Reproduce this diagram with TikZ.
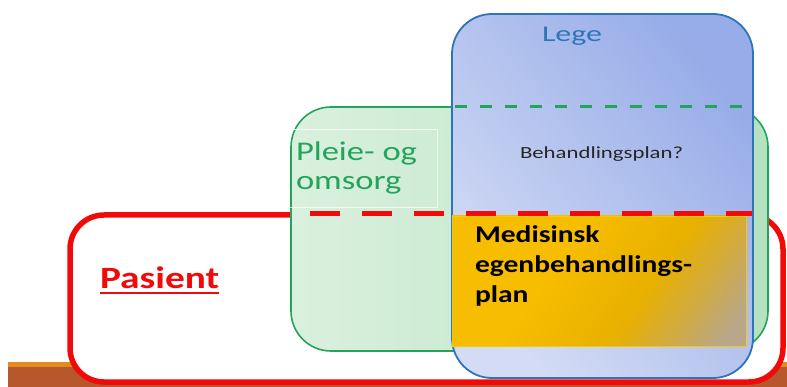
\documentclass[tikz,border=0pt]{standalone}
\usepackage{fontspec}
\setmainfont{Carlito}
\definecolor{pasred}{HTML}{F00A0A}
\definecolor{carestroke}{HTML}{22A45C}
\definecolor{carefillA}{HTML}{DAF0DE}
\definecolor{carefillB}{HTML}{B6E2C0}
\definecolor{docstroke}{HTML}{2E74B8}
\definecolor{docfillA}{HTML}{D4DCF5}
\definecolor{docfillB}{HTML}{97ACE8}
\definecolor{planA}{HTML}{F7BD00}
\definecolor{planM}{HTML}{E8B000}
\definecolor{planC}{HTML}{D2AB40}
\definecolor{planB}{HTML}{B8A788}
\definecolor{barlight}{HTML}{E38A20}
\definecolor{bardark}{HTML}{B6582C}
% gold to tan fill for the plan box
\pgfdeclarehorizontalshading{planshade}{100bp}{color(0bp)=(planA); color(40bp)=(planA);
  color(60bp)=(planM); color(70bp)=(planC); color(80bp)=(planB); color(100bp)=(planB)}
\tikzset{
  region/.style={shape=rectangle, inner sep=0pt, outer sep=0pt, anchor=north west},
  label/.style={inner sep=0pt, outer sep=0pt, anchor=base west, align=left}
}
% text size with horizontal stretch
\newcommand{\wfont}[3]{\fontsize{#1}{#2}\selectfont\addfontfeatures{FakeStretch=#3}}
\begin{document}
\begin{tikzpicture}[x=1pt, y=-1pt]
\useasboundingbox (0,0) rectangle (787,387);

% footer bar
\fill[bardark] (8,362) rectangle (787,387);
\fill[barlight] (8,362) rectangle (787,367);

% patient frame
\node[region, draw=pasred, fill=white, line width=5.5pt, rounded corners=34pt,
      minimum width=713pt, minimum height=167pt] (pasient) at (70,215) {};

% care region
\node[region, draw=carestroke, line width=1.6pt, rounded corners=40pt,
      left color=carefillA, right color=carefillB,
      minimum width=477pt, minimum height=244pt] (pleie) at (291,107) {};
\node[region, draw=white, draw opacity=0.7, line width=0.6pt,
      minimum width=149pt, minimum height=78pt] (pleiebox) at (288,129) {};

% doctor region
\node[region, draw=docstroke, line width=1.8pt, rounded corners=40pt,
      left color=docfillA, right color=docfillB, shading angle=130,
      minimum width=301pt, minimum height=364pt] (lege) at (452,14) {};

% boundary lines
\coordinate (gA) at (455,107);
\coordinate (gB) at (744,107);
\draw[carestroke, line width=3pt, dash pattern=on 12pt off 13pt] (gA) -- (gB);

% self-treatment plan
\node[region, draw=planA!80!yellow, line width=0.8pt,
      shading=planshade, shading angle=-35,
      minimum width=294pt, minimum height=130pt] (egen) at (452,216) {};

\coordinate (rA) at (310,214);
\coordinate (rB) at (752,214);
\draw[pasred, line width=5pt, dash pattern=on 30pt off 22pt] (rA) -- (rB);

% labels
\node[label, text=docstroke, font=\wfont{22.5}{27}{1.42}] (tlege) at (542,41.7) {Lege};
\node[label, text=carestroke, font=\wfont{27}{29.5}{1.28}] (tpleie) at (296,190) {Pleie- og\\omsorg};
\node[label, text=black!85, font=\wfont{17}{20}{1.34}] (tbeh) at (520,158.3) {Behandlingsplan?};
\node[label, text=black, font=\bfseries\wfont{24}{30.2}{1.23}] (tegen) at (475,303) {Medisinsk\\egenbehandlings-\\plan};
\node[label, text=pasred, font=\bfseries\wfont{31}{36}{1.27}] (tpas) at (100,288.3) {Pasient};
\draw[pasred, line width=2pt] ([yshift=-5pt]tpas.base west) -- ([yshift=-5pt]tpas.base east);
\end{tikzpicture}
\end{document}
